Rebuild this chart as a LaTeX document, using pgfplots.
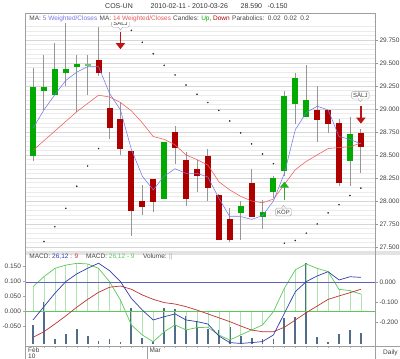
\documentclass[border=0pt]{standalone}
\usepackage{fontspec}
\setmainfont{Liberation Sans}
\usepackage{pgfplots}
\pgfplotsset{compat=1.18}
\usepackage{pgfplotstable}
\usetikzlibrary{arrows.meta}

\definecolor{candup}{RGB}{0,170,0}
\definecolor{candlight}{RGB}{110,200,110}
\definecolor{canddown}{RGB}{175,0,0}
\definecolor{wick}{RGB}{150,150,150}
\definecolor{mablue}{RGB}{120,120,230}
\definecolor{mared}{RGB}{235,90,90}
\definecolor{txt}{RGB}{70,70,70}
\definecolor{macdblue}{RGB}{50,60,170}
\definecolor{macdred}{RGB}{190,50,50}
\definecolor{macdgreen}{RGB}{90,200,90}
\definecolor{histgreen}{RGB}{175,228,175}
\definecolor{volcol}{RGB}{80,110,140}
\definecolor{arrgreen}{RGB}{40,175,40}
\definecolor{arrred}{RGB}{190,20,20}

% candles
\pgfplotstableread{
i o c
0 28.49 29.24
1 29.19 29.24
2 29.155 29.44
3 29.39 29.435
4 29.46 29.49
12 28.02 28.64
19 27.87 27.94
21 27.83 27.88
22 28.10 28.25
23 28.33 29.14
24 29.05 29.34
25 28.91 29.10
29 28.43 28.73
}\upcandles
\pgfplotstableread{
i o c
5 29.47 29.49
}\lightcandles
\pgfplotstableread{
i o c
6 29.53 29.39
7 29.01 28.79
8 28.89 28.56
9 28.54 27.89
10 28.00 27.935
11 28.24 27.99
13 28.75 28.58
14 28.45 28.025
15 28.35 28.27
16 28.49 28.14
17 28.06 27.58
18 27.80 27.58
20 28.20 27.83
26 28.99 28.88
27 28.99 28.84
28 28.85 28.19
30 28.74 28.59
}\downcandles
\pgfplotstableread{
i h l
0 29.45 28.43
1 29.59 28.99
2 29.72 29.155
3 29.93 29.25
4 29.59 28.97
5 29.59 29.155
6 29.89 29.355
7 29.40 28.67
8 29.08 28.50
9 28.54 27.62
10 28.17 27.85
11 28.24 27.88
12 28.64 28.02
13 28.81 28.405
14 28.53 27.95
15 28.45 28.10
16 28.56 28.00
17 28.08 27.58
18 27.92 27.55
19 28.00 27.58
20 28.35 27.83
21 28.01 27.70
22 28.275 28.03
23 29.19 28.27
24 29.39 28.84
25 29.48 28.91
26 29.25 28.64
27 28.99 28.74
28 28.89 28.16
29 28.91 28.16
30 28.78 28.30
}\wicks
% moving averages
\pgfplotstableread{
i wma5 wma14
0 28.79 28.55
1 28.99 28.655
2 29.155 28.76
3 29.31 28.865
4 29.40 28.97
5 29.46 29.06
6 29.46 29.15
7 29.17 29.13
8 28.99 29.07
9 28.56 28.98
10 28.27 28.85
11 28.12 28.70
12 28.27 28.67
13 28.35 28.61
14 28.30 28.50
15 28.30 28.45
16 28.26 28.39
17 28.03 28.21
18 27.83 28.12
19 27.83 28.05
20 27.80 28.00
21 27.84 27.98
22 28.00 28.02
23 28.30 28.18
24 28.775 28.34
25 28.96 28.43
26 29.03 28.50
27 28.99 28.57
28 28.70 28.58
29 28.67 28.59
30 28.62 28.63
}\mas
% parabolic SAR
\pgfplotstableread{
i s
0 27.45
1 27.56
2 27.72
3 27.92
4 28.16
5 28.38
6 28.57
9 29.855
10 29.725
11 29.60
12 29.475
13 29.37
14 29.26
15 29.16
16 29.07
17 28.985
18 28.87
19 28.74
20 28.62
21 28.51
22 28.405
23 27.54
24 27.57
25 27.65
26 27.75
27 27.87
28 27.96
29 28.06
30 28.14
}\sar
% MACD and volume
\pgfplotstableread{
i macd signal hist vol
0 -0.188 -0.274 0.082 19
1 -0.122 -0.246 0.116 42
2 -0.056 -0.208 0.144 5
3 0.002 -0.168 0.155 10
4 0.040 -0.125 0.161 15
5 0.068 -0.086 0.159 8
6 0.093 -0.051 0.144 3
7 0.056 -0.026 0.099 5
8 0.002 -0.020 0.037 1.5
9 -0.081 -0.036 -0.047 36
10 -0.139 -0.064 -0.081 6
11 -0.188 -0.086 -0.104 3
12 -0.172 -0.102 -0.070 36
13 -0.158 -0.109 -0.047 35
14 -0.188 -0.122 -0.064 28
15 -0.196 -0.139 -0.056 23
16 -0.208 -0.158 -0.055 15
17 -0.267 -0.177 -0.081 14
18 -0.300 -0.196 -0.098 17
19 -0.304 -0.218 -0.081 8
20 -0.300 -0.238 -0.064 6
21 -0.295 -0.246 -0.047 5
22 -0.262 -0.246 -0.002 5
23 -0.155 -0.224 0.077 26
24 -0.048 -0.188 0.139 27
25 0.002 -0.152 0.159 81
26 0.030 -0.119 0.144 7
27 0.051 -0.086 0.133 1.5
28 0.010 -0.069 0.073 10
29 0.026 -0.053 0.069 14
30 0.023 -0.036 0.057 11
}\macdtab
\pgfplotstableread{
i z
-0.732 0
31.29 0
}\zeroline

\newcommand{\sm}{\fontsize{6.5}{7.5}\selectfont}
\tikzset{sig/.style={draw=gray!70, fill=white, rounded corners=1.5pt, inner xsep=1.6pt, inner ysep=1.3pt,
  font=\fontsize{6}{7}\selectfont, text=black!75}}

\begin{document}
\begin{tikzpicture}[x=1pt,y=1pt]
\path[use as bounding box] (0,0) rectangle (400,359);

% ---------------- price panel
\begin{axis}[
  at={(25pt,107pt)}, anchor=south west, scale only axis,
  width=350pt, height=239pt,
  xmin=-0.732, xmax=31.29, ymin=27.445, ymax=30.0435,
  axis line style={draw=none},
  xtick=\empty,
  ytick={27.5,27.75,28,28.25,28.5,28.75,29,29.25,29.5,29.75},
  minor ytick={27.45,27.55,27.6,27.65,27.7,27.8,27.85,27.9,27.95,28.05,28.1,28.15,28.2,28.3,28.35,28.4,28.45,28.55,28.6,28.65,28.7,28.8,28.85,28.9,28.95,29.05,29.1,29.15,29.2,29.3,29.35,29.4,29.45,29.55,29.6,29.65,29.7,29.8,29.85,29.9,29.95,30.0},
  ymajorgrids, yminorgrids,
  major grid style={gray!32, line width=0.4pt},
  minor grid style={gray!16, line width=0.4pt},
  ytick pos=right, yticklabel pos=right,
  tick align=outside, major tick length=3pt, minor tick length=0pt,
  major tick style={gray!80},
  yticklabel style={font=\sm, text=black!75, xshift=-2pt,
    /pgf/number format/.cd, fixed, fixed zerofill, precision=3, assume math mode=true},
]
% wicks
\addplot[draw=none, mark=none, forget plot,
  error bars/.cd, y dir=plus, y explicit, error mark=none,
  error bar style={draw=wick, line width=0.9pt}]
  table[x=i, y=l, y error plus expr=\thisrow{h}-\thisrow{l}] {\wicks};
% bodies
\addplot[draw=none, mark=none, forget plot,
  error bars/.cd, y dir=plus, y explicit, error mark=none,
  error bar style={draw=candup, line width=6pt}]
  table[x=i, y=o, y error plus expr=\thisrow{c}-\thisrow{o}] {\upcandles};
\addplot[draw=none, mark=none, forget plot,
  error bars/.cd, y dir=plus, y explicit, error mark=none,
  error bar style={draw=candlight, line width=6pt}]
  table[x=i, y=o, y error plus expr=\thisrow{c}-\thisrow{o}] {\lightcandles};
\addplot[draw=none, mark=none, forget plot,
  error bars/.cd, y dir=plus, y explicit, error mark=none,
  error bar style={draw=canddown, line width=6pt}]
  table[x=i, y=c, y error plus expr=\thisrow{o}-\thisrow{c}] {\downcandles};
% moving averages
\addplot[mared, line width=0.55pt, mark=none] table[x=i, y=wma14] {\mas};
\addplot[mablue, line width=0.55pt, mark=none] table[x=i, y=wma5] {\mas};
% parabolic SAR
\addplot[only marks, mark=*, mark size=0.55pt, black!85] table[x=i, y=s] {\sar};
% signal arrows
\addplot[arrred, line width=1.5pt, -{Triangle[width=9pt,length=6pt]}] coordinates {(8,29.84) (8,29.65)};
\addplot[arrred, line width=1.5pt, -{Triangle[width=9pt,length=6pt]}] coordinates {(30,29.03) (30,28.84)};
\addplot[arrgreen, line width=1.5pt, -{Triangle[width=9pt,length=6pt]}] coordinates {(23,28.01) (23,28.21)};
% labels
\node[sig] (s1) at (axis cs:8,29.93) {SÄLJ};
\filldraw[draw=gray!70, fill=white] ([xshift=-2.2pt,yshift=0.4pt]s1.south) -- ([yshift=-2.6pt]s1.south) -- ([xshift=2.2pt,yshift=0.4pt]s1.south);
\node[sig] (s2) at (axis cs:29.95,29.15) {SÄLJ};
\filldraw[draw=gray!70, fill=white] ([xshift=-2.2pt,yshift=0.4pt]s2.south) -- ([yshift=-2.6pt]s2.south) -- ([xshift=2.2pt,yshift=0.4pt]s2.south);
\node[sig] (k1) at (axis cs:22.92,27.88) {KÖP};
\filldraw[draw=gray!70, fill=white] ([xshift=-2.2pt,yshift=-0.4pt]k1.north) -- ([yshift=2.6pt]k1.north) -- ([xshift=2.2pt,yshift=-0.4pt]k1.north);
\end{axis}

% ---------------- volume (hidden axis)
\begin{axis}[
  at={(25pt,13pt)}, anchor=south west, scale only axis,
  width=350pt, height=94pt,
  xmin=-0.732, xmax=31.29, ymin=-2, ymax=92,
  axis lines=none, ticks=none,
]
\addplot[ycomb, volcol, line width=1.8pt, mark=none] table[x=i, y=vol] {\macdtab};
\end{axis}

% ---------------- MACD histogram (left axis)
\begin{axis}[
  at={(25pt,13pt)}, anchor=south west, scale only axis,
  width=350pt, height=94pt,
  xmin=-0.732, xmax=31.29, ymin=-0.1182, ymax=0.1993,
  axis line style={draw=none},
  xtick={0,1,...,30}, xticklabels={}, xtick pos=bottom,
  ytick={-0.05,0,0.05,0.1,0.15}, ytick pos=left, yticklabel pos=left,
  tick align=outside, major tick length=2pt, major tick style={gray!70},
  yticklabel style={font=\sm, text=black!75, xshift=1.5pt,
    /pgf/number format/.cd, fixed, fixed zerofill, precision=3, assume math mode=true},
]
\addplot[ycomb, histgreen, line width=0.6pt, mark=none] table[x=i, y=hist] {\macdtab};
\addplot[macdgreen, line width=0.6pt, mark=none] table[x=i, y=z] {\zeroline};
\addplot[macdgreen, line width=0.7pt, mark=none] table[x=i, y=hist] {\macdtab};
\end{axis}

% ---------------- MACD lines (right axis)
\begin{axis}[
  at={(25pt,13pt)}, anchor=south west, scale only axis,
  width=350pt, height=94pt,
  xmin=-0.732, xmax=31.29, ymin=-0.3168, ymax=0.1485,
  axis line style={draw=none},
  xtick=\empty,
  ytick={-0.2,-0.1,0}, ytick pos=right, yticklabel pos=right,
  tick align=outside, major tick length=3pt, major tick style={gray!80},
  yticklabel style={font=\sm, text=black!75, xshift=-2pt,
    /pgf/number format/.cd, fixed, fixed zerofill, precision=3, assume math mode=true},
]
\addplot[macdblue!80, line width=0.6pt, mark=none] table[x=i, y=z] {\zeroline};
\addplot[macdred, line width=0.7pt, mark=none] table[x=i, y=signal] {\macdtab};
\addplot[macdblue, line width=0.7pt, mark=none] table[x=i, y=macd] {\macdtab};
\end{axis}

% ---------------- frame and texts
\fill[white] (25.6,337.3) rectangle (374.4,345.6);
\fill[gray!22] (25,104) rectangle (400,107.6);
\draw[gray!75, line width=0.5pt] (25,0) -- (25,346);
\draw[gray!75, line width=0.5pt] (375,0) -- (375,346);
\draw[gray!75, line width=0.5pt] (25,346) -- (375,346);
\draw[gray!75, line width=0.5pt] (25,13) -- (400,13);
\draw[gray!75, line width=0.5pt] (147.7,0) -- (147.7,13);

\begin{scope}[every node/.style={inner sep=0pt, anchor=base west}]
\node[font=\fontsize{7}{8}\selectfont, text=black!80] at (105,350.6) {COS-UN};
\node[font=\fontsize{7}{8}\selectfont, text=black!80] at (150.5,350.6) {2010-02-11 - 2010-03-26};
\node[font=\fontsize{7}{8}\selectfont, text=black!80] at (240.5,350.6) {28.590};
\node[font=\fontsize{7}{8}\selectfont, text=black!80] at (267.5,350.6) {-0.150};

\node[font=\sm] at (29.3,338.4) {\textcolor{txt}{MA:} \textcolor{mablue}{5 Weighted/Closes}};
\node[font=\sm] at (99.5,338.4) {\textcolor{txt}{MA:} \textcolor{mared}{14 Weighted/Closes}};
\node[font=\sm] at (173,338.4) {\textcolor{txt}{Candles:} \textcolor{candup}{Up}\textcolor{txt}{,} \textcolor{canddown}{Down}};
\node[font=\sm] at (232,338.4) {\textcolor{txt}{Parabolics:}\ \ \textcolor{txt}{0.02\ \ 0.02\ \ 0.2}};

\node[font=\sm] at (29.3,100) {\textcolor{txt}{MACD:} \textcolor{macdblue}{26,12} \textcolor{macdred}{: 9}};
\node[font=\sm] at (86,100) {\textcolor{txt}{MACD:} \textcolor{macdgreen}{26,12 - 9}};
\node[font=\sm] at (143,100) {\textcolor{txt}{Volume:} \textcolor{volcol!60}{||}};

\node[font=\sm, text=black!75] at (28,6.7) {Feb};
\node[font=\sm, text=black!75] at (28,0.3) {10};
\node[font=\sm, text=black!75] at (149.5,6.7) {Mar};
\node[font=\sm, text=black!75] at (383,4.7) {Daily};
\end{scope}
\end{tikzpicture}
\end{document}
